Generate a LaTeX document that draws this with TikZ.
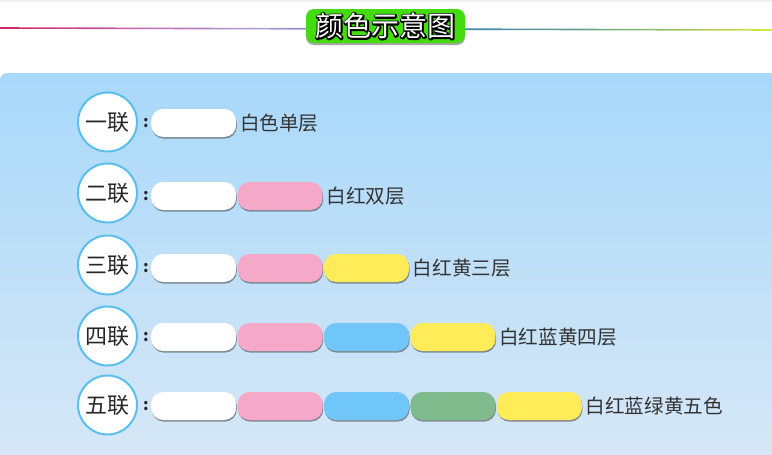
\documentclass[tikz,border=0pt]{standalone}
\usepackage{fontspec}
\setmainfont{Noto Sans CJK SC}
\usetikzlibrary{shadows}
\definecolor{lineA}{HTML}{D02468}
\definecolor{lineB}{HTML}{C070B0}
\definecolor{lineC}{HTML}{A8A0D0}
\definecolor{lineD}{HTML}{7070C0}
\definecolor{lineE}{HTML}{4088A8}
\definecolor{lineF}{HTML}{70A880}
\definecolor{lineG}{HTML}{D8E840}
\definecolor{panelTop}{HTML}{A8D8FA}
\definecolor{panelBot}{HTML}{D8E8F6}
\definecolor{titleGreen}{HTML}{44DC0E}
\definecolor{ringBlue}{HTML}{5BBFEE}
\definecolor{txt}{HTML}{333333}
\definecolor{pw}{HTML}{FFFFFF}
\definecolor{pp}{HTML}{F6A8C8}
\definecolor{pb}{HTML}{70C6F8}
\definecolor{pg}{HTML}{80BB8D}
\definecolor{py}{HTML}{FFEC58}
\pgfdeclarehorizontalshading{rainbowline}{100bp}{color(0bp)=(lineA); color(25bp)=(lineA); color(35bp)=(lineB); color(42bp)=(lineC); color(49bp)=(lineD); color(56bp)=(lineE); color(64bp)=(lineF); color(75bp)=(lineG); color(100bp)=(lineG)}
\newcommand\outlinedtext[1]{\leavevmode\rlap{\textcolor{black}{\special{pdf:literal direct 2 Tr 2.8 w 1 j}#1\special{pdf:literal direct 0 Tr 1 w}}}\textcolor{white}{#1}}
\tikzset{
  pillbox/.style={minimum width=85pt, minimum height=28pt, inner sep=0pt, rounded corners=12pt, anchor=west,
    drop shadow={shadow xshift=0.6pt, shadow yshift=-1.6pt, opacity=0.55, fill=black!75}},
  ringnode/.style={circle, minimum size=59pt, inner sep=0pt, draw=ringBlue, line width=2pt, fill=white,
    text=black!85, font=\fontsize{22}{22}\selectfont},
  colonnode/.style={inner sep=0pt, text=black!85, font=\fontsize{16}{16}\selectfont\bfseries},
  labelnode/.style={inner sep=0pt, anchor=west, text=txt, font=\fontsize{19.6}{20}\selectfont},
  titlebox/.style={fill=titleGreen, rounded corners=8pt, minimum width=159pt, minimum height=34pt, inner sep=0pt,
    drop shadow={shadow xshift=0pt, shadow yshift=-2pt, opacity=0.35, fill=black},
    font=\fontsize{28}{28}\selectfont}
}
\begin{document}
\begin{tikzpicture}[x=1pt,y=-1pt]
\useasboundingbox (0,0) rectangle (772,455);
\fill[white] (0,0) rectangle (772,455);
\fill[black!6] (0,0) rectangle (772,2);
\shade[shading=rainbowline] (0,27.2) -- (772,29.2) -- (772,30.8) -- (0,28.8) -- cycle;
\shade[top color=panelTop, bottom color=panelBot] (0,470) [rounded corners=7pt] -- (0,73) [sharp corners] -- (790,73) -- (790,470) -- cycle;
\node[titlebox] (title) at (385.5,26) {\outlinedtext{颜色示意图}};
\foreach \r/\cy/\py/\num/\lab/\n/\cols in {
  1/122/123/一/白色单层/1/{pw},
  2/193/196/二/白红双层/2/{pw,pp},
  3/265/268/三/白红黄三层/3/{pw,pp,py},
  4/336/337/四/白红蓝黄四层/4/{pw,pp,pb,py},
  5/405/406/五/白红蓝绿黄五色/5/{pw,pp,pb,pg,py}}{
  \node[ringnode] (c\r) at (107.5,\cy) {\num 联};
  \node[colonnode] (k\r) at (146,\py) {:};
  \foreach \c [count=\i] in \cols {
    \node[pillbox, fill=\c] (p\r-\i) at ({151+86.4*(\i-1)},\py) {};
  }
  \node[labelnode] (l\r) at ([xshift=3.5pt]p\r-\n.east) {\lab};
}
\end{tikzpicture}
\end{document}
